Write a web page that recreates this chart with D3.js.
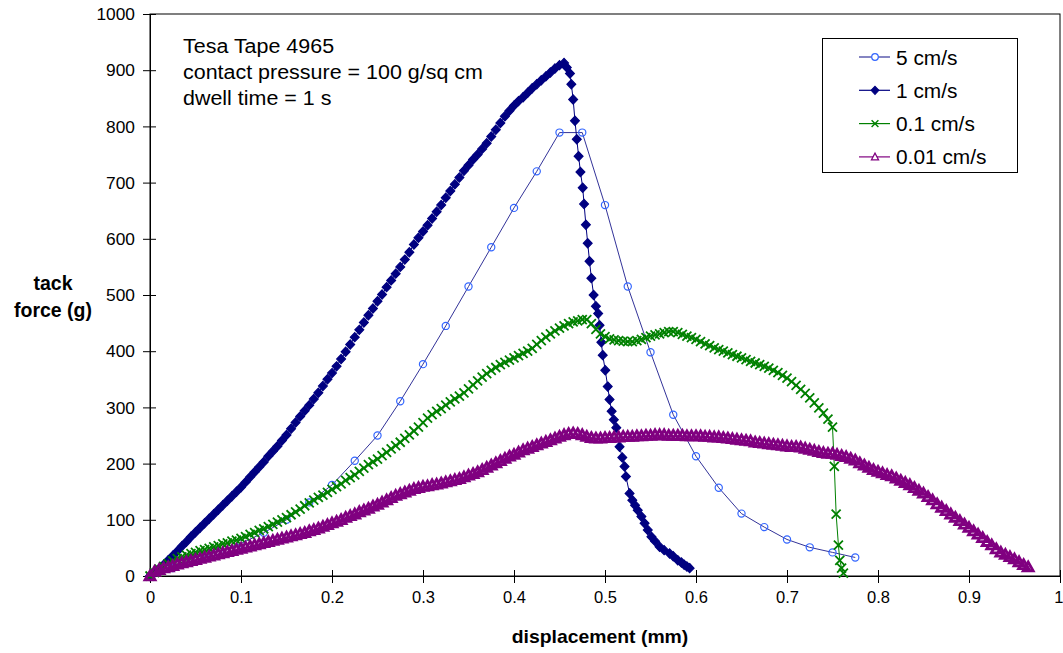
<!DOCTYPE html>
<html>
<head>
<meta charset="utf-8">
<script src="https://cdn.jsdelivr.net/npm/d3@7"></script>
<style>
  html, body { margin: 0; padding: 0; background: #fff; }
  svg { display: block; font-family: "Liberation Sans", Arial, sans-serif; }
</style>
</head>
<body>
<svg id="chart" width="1063" height="653"></svg>
<script>
// ---------------- DATA ----------------
const seriesNames = ["5 cm/s", "1 cm/s", "0.1 cm/s", "0.01 cm/s"];
const xTickValues = [0, 0.1, 0.2, 0.3, 0.4, 0.5, 0.6, 0.7, 0.8, 0.9, 1];
const xTickLabels = ["0", "0.1", "0.2", "0.3", "0.4", "0.5", "0.6", "0.7", "0.8", "0.9", "1"];
const yTickValues = [0, 100, 200, 300, 400, 500, 600, 700, 800, 900, 1000];
const yTickLabels = ["0", "100", "200", "300", "400", "500", "600", "700", "800", "900", "1000"];
const annotationLines = ["Tesa Tape 4965", "contact pressure = 100 g/sq cm", "dwell time = 1 s"];

// 5 cm/s  [displacement mm, force g]
const speed5 = [[0,0],[0.025,14],[0.05,28],[0.075,44],[0.1,58],[0.125,77],[0.15,100],[0.175,131],[0.2,162],
  [0.225,205],[0.25,250],[0.275,311],[0.3,377],[0.325,445],[0.35,515],[0.375,585],[0.4,655],[0.425,720],
  [0.45,789],[0.475,789],[0.5,660],[0.525,515],[0.55,398],[0.575,287],[0.6,213],[0.625,157],[0.65,111],
  [0.675,87],[0.7,65],[0.725,51],[0.75,42],[0.775,33]];

// 1 cm/s
const speed1 = [[0,0],[0.005,6],[0.01,13],[0.015,20],[0.02,28],[0.025,36],[0.03,44],[0.035,53],[0.04,61],[0.045,70],
  [0.05,78],[0.055,86],[0.06,94],[0.065,102],[0.07,110],[0.075,118],[0.08,126],[0.085,134],[0.09,142],[0.095,150],
  [0.1,158],[0.105,167],[0.11,176],[0.115,185],[0.12,194],[0.125,203],[0.13,213],[0.135,222],[0.14,231],[0.145,241],
  [0.15,251],[0.155,262],[0.16,273],[0.165,284],[0.17,294],[0.175,304],[0.18,315],[0.185,326],[0.19,338],[0.195,350],
  [0.2,361],[0.205,373],[0.21,386],[0.215,399],[0.22,412],[0.225,425],[0.23,438],[0.235,451],[0.24,464],[0.245,476],
  [0.25,489],[0.255,501],[0.26,514],[0.265,526],[0.27,538],[0.275,550],[0.28,563],[0.285,576],[0.29,590],[0.295,602],
  [0.3,613],[0.305,624],[0.31,636],[0.315,648],[0.32,660],[0.325,673],[0.33,685],[0.335,697],[0.34,709],[0.345,721],
  [0.35,731],[0.355,741],[0.36,750],[0.365,760],[0.37,770],[0.375,782],[0.38,794],[0.385,806],[0.39,818],[0.395,828],
  [0.4,837],[0.405,845],[0.41,852],[0.415,860],[0.42,868],[0.425,875],[0.43,882],[0.435,889],[0.44,896],[0.445,903],
  [0.45,909],[0.455,913],
  [0.458,905],[0.4615,894],[0.463,875],[0.465,848],[0.467,810],[0.469,777],[0.471,747],[0.473,719],[0.4755,691],
  [0.477,662],[0.479,625],[0.481,592],[0.483,560],[0.485,530],[0.4875,500],[0.49,480],[0.4925,467],[0.494,446],
  [0.496,416],[0.4975,393],[0.5003,366],[0.503,337],[0.505,314],[0.5073,293],[0.5097,278],[0.5124,264],[0.516,230],
  [0.519,211],[0.5215,195],[0.523,177],[0.527,147],[0.53,135],[0.533,126],[0.536,117],[0.54,106],[0.5435,94],
  [0.547,82],[0.551,70],[0.555,62],[0.56,52],[0.565,46],[0.571,40],[0.575,35],[0.58,28],[0.584,24],[0.587,20],
  [0.59,17],[0.593,14]];

// 0.1 cm/s
const speed01 = [[0,0],[0.005,6],[0.01,12],[0.015,17],[0.02,22],[0.025,27],[0.03,31],[0.035,34],[0.04,37],[0.045,40],
  [0.05,42],[0.055,45],[0.06,47],[0.065,49],[0.07,52],[0.075,54],[0.08,57],[0.085,59],[0.09,62],[0.095,64],
  [0.1,67],[0.105,70],[0.11,74],[0.115,77],[0.12,81],[0.125,84],[0.13,88],[0.135,92],[0.14,96],[0.145,100],
  [0.15,104],[0.155,109],[0.16,114],[0.165,119],[0.17,125],[0.175,130],[0.18,135],[0.185,140],[0.19,144],[0.195,149],
  [0.2,154],[0.205,159],[0.21,164],[0.215,170],[0.22,175],[0.225,180],[0.23,186],[0.235,192],[0.24,198],[0.245,203],
  [0.25,208],[0.255,214],[0.26,220],[0.265,226],[0.27,232],[0.275,238],[0.28,245],[0.285,251],[0.29,258],[0.295,265],
  [0.3,273],[0.305,281],[0.31,287],[0.315,293],[0.32,298],[0.325,304],[0.33,310],[0.335,315],[0.34,320],[0.345,326],
  [0.35,333],[0.355,340],[0.36,347],[0.365,354],[0.37,360],[0.375,366],[0.38,371],[0.385,376],[0.39,380],[0.395,384],
  [0.4,388],[0.405,392],[0.41,396],[0.415,400],[0.42,405],[0.425,412],[0.43,419],[0.435,425],[0.44,431],[0.445,436],
  [0.45,441],[0.455,445],[0.46,449],[0.465,452],[0.47,454],[0.475,456],[0.48,456],[0.485,449],[0.49,439],[0.495,431],
  [0.5,426],[0.505,422],[0.51,420],[0.515,419],[0.52,418],[0.525,417],[0.53,417],[0.535,419],[0.54,421],[0.545,424],
  [0.55,427],[0.555,429],[0.56,431],[0.565,433],[0.57,435],[0.575,435],[0.58,433],[0.585,430],[0.59,427],[0.595,424],
  [0.6,421],[0.605,417],[0.61,413],[0.615,410],[0.62,406],[0.625,403],[0.63,400],[0.635,397],[0.64,394],[0.645,391],
  [0.65,388],[0.655,385],[0.66,382],[0.665,379],[0.67,376],[0.675,373],[0.68,370],[0.685,366],[0.69,362],[0.695,357],
  [0.7,352],[0.705,346],[0.71,339],[0.715,332],[0.72,325],[0.725,317],[0.73,308],[0.735,299],[0.74,290],[0.745,279],
  [0.75,265],[0.752,195],[0.754,110],[0.7565,55],[0.758,28],[0.76,14],[0.762,5]];

// 0.01 cm/s
const speed001 = [[0,0],[0.005,8],[0.01,11],[0.015,14],[0.02,16],[0.025,18],[0.03,21],[0.035,23],[0.04,25],[0.045,27],
  [0.05,29],[0.055,31],[0.06,33],[0.065,35],[0.07,37],[0.075,39],[0.08,41],[0.085,43],[0.09,45],[0.095,47],
  [0.1,49],[0.105,51],[0.11,53],[0.115,55],[0.12,57],[0.125,59],[0.13,61],[0.135,63],[0.14,65],[0.145,67],
  [0.15,69],[0.155,71],[0.16,73],[0.165,75],[0.17,77],[0.175,80],[0.18,82],[0.185,85],[0.19,88],[0.195,91],
  [0.2,94],[0.205,97],[0.21,100],[0.215,104],[0.22,107],[0.225,110],[0.23,114],[0.235,117],[0.24,120],[0.245,124],
  [0.25,127],[0.255,131],[0.26,135],[0.265,139],[0.27,143],[0.275,146],[0.28,149],[0.285,152],[0.29,155],[0.295,157],
  [0.3,159],[0.305,160],[0.31,162],[0.315,163],[0.32,165],[0.325,167],[0.33,169],[0.335,171],[0.34,173],[0.345,176],
  [0.35,179],[0.355,182],[0.36,185],[0.365,189],[0.37,193],[0.375,197],[0.38,201],[0.385,205],[0.39,209],[0.395,213],
  [0.4,216],[0.405,220],[0.41,224],[0.415,227],[0.42,230],[0.425,233],[0.43,236],[0.435,239],[0.44,242],[0.445,245],
  [0.45,248],[0.455,251],[0.46,253],[0.465,254],[0.47,253],[0.475,251],[0.48,248],[0.485,246],[0.49,245],[0.495,245],
  [0.5,246],[0.505,246],[0.51,247],[0.515,247],[0.52,248],[0.525,248],[0.53,248],[0.535,249],[0.54,249],[0.545,250],
  [0.55,250],[0.555,251],[0.56,251],[0.565,251],[0.57,250],[0.575,250],[0.58,250],[0.585,250],[0.59,249],[0.595,249],
  [0.6,249],[0.605,249],[0.61,248],[0.615,248],[0.62,247],[0.625,247],[0.63,246],[0.635,245],[0.64,244],[0.645,243],
  [0.65,242],[0.655,241],[0.66,240],[0.665,238],[0.67,237],[0.675,236],[0.68,235],[0.685,234],[0.69,233],[0.695,232],
  [0.7,231],[0.705,230],[0.71,230],[0.715,229],[0.72,227],[0.725,225],[0.73,223],[0.735,221],[0.74,219],[0.745,218],
  [0.75,218],[0.755,216],[0.76,214],[0.765,212],[0.77,209],[0.775,206],[0.78,201],[0.785,197],[0.79,193],[0.795,189],
  [0.8,186],[0.805,183],[0.81,180],[0.815,178],[0.82,174],[0.825,170],[0.83,166],[0.835,162],[0.84,157],[0.845,152],
  [0.85,147],[0.855,141],[0.86,135],[0.865,128],[0.87,122],[0.875,116],[0.88,110],[0.885,104],[0.89,98],[0.895,92],
  [0.9,86],[0.905,80],[0.91,74],[0.915,68],[0.92,61],[0.925,55],[0.93,48],[0.935,42],[0.94,38],[0.945,34],
  [0.95,30],[0.955,25],[0.96,20],[0.965,16]];

// ---------------- CHART ----------------
const svg = d3.select("#chart");
svg.append("rect").attr("width", 1063).attr("height", 653).attr("fill", "#fff");

const x = d3.scaleLinear().domain([0, 1]).range([150, 1060]);
const y = d3.scaleLinear().domain([0, 1000]).range([576, 14]);

// stretch text horizontally (the reference text is slightly wide)
function stretch(sel, f) {
  sel.each(function () {
    const w = this.getComputedTextLength();
    d3.select(this).attr("textLength", w * f).attr("lengthAdjust", "spacingAndGlyphs");
  });
}

// plot frame (top/right)
svg.append("rect")
  .attr("x", x(0)).attr("y", y(1000))
  .attr("width", x(1) - x(0)).attr("height", y(0) - y(1000))
  .attr("fill", "none").attr("stroke", "#000").attr("stroke-width", 1);

// Y axis
const yAxis = svg.append("g")
  .attr("transform", `translate(${x(0)},0)`)
  .call(d3.axisLeft(y).tickValues(yTickValues)
    .tickFormat((d, i) => yTickLabels[i]).tickSizeOuter(0).tickSizeInner(7));
yAxis.select(".domain").attr("stroke", "#000");
yAxis.selectAll(".tick line").attr("x1", 6).attr("x2", -7).attr("stroke", "#000");
yAxis.selectAll(".tick text").attr("x", -15).attr("dy", "0.35em")
  .attr("font-size", 16.5).attr("fill", "#000").style("font-family", "'Liberation Sans', Arial, sans-serif");
stretch(yAxis.selectAll(".tick text"), 1.05);

// X axis
const xAxis = svg.append("g")
  .attr("transform", `translate(0,${y(0)})`)
  .call(d3.axisBottom(x).tickValues(xTickValues)
    .tickFormat((d, i) => xTickLabels[i]).tickSizeOuter(0).tickSizeInner(7));
xAxis.select(".domain").attr("stroke", "#000");
xAxis.selectAll(".tick line").attr("y1", -6).attr("y2", 7).attr("stroke", "#000");
xAxis.selectAll(".tick text").attr("y", 22).attr("dy", "0.32em")
  .attr("font-size", 16.5).attr("fill", "#000").style("font-family", "'Liberation Sans', Arial, sans-serif");
// last label sits at the right edge: keep it inside the page
xAxis.selectAll(".tick text").filter(d => d === 1).attr("text-anchor", "end").attr("x", 3);

// Axis titles
const xt = svg.append("text").attr("x", 600).attr("y", 643).attr("text-anchor", "middle")
  .attr("font-size", 19).attr("font-weight", "bold").text("displacement (mm)");
stretch(xt, 1.02);
svg.append("text").attr("text-anchor", "middle").attr("font-size", 19.5).attr("font-weight", "bold")
  .attr("x", 53).attr("y", 290).text("tack");
svg.append("text").attr("text-anchor", "middle").attr("font-size", 19.5).attr("font-weight", "bold")
  .attr("x", 53).attr("y", 317).text("force (g)");

// Annotation
const ann = svg.append("g").selectAll("text").data(annotationLines).join("text")
  .attr("x", 183).attr("y", (d, i) => 53 + i * 26)
  .attr("font-size", 19.5).attr("fill", "#000").text(d => d);
stretch(ann, 1.1);

// marker shapes
const shapes = {
  circle: "M3.6,0A3.6,3.6 0 1,1 -3.6,0A3.6,3.6 0 1,1 3.6,0Z",
  diamond: "M0,-4.6L4.4,0L0,4.6L-4.4,0Z",
  cross: "M-4.5,-4.5L4.5,4.5M-4.5,4.5L4.5,-4.5",
  triangle: "M0,-5L5,3.8L-5,3.8Z"
};
const legendShapes = {
  circle: "M3.3,0A3.3,3.3 0 1,1 -3.3,0A3.3,3.3 0 1,1 3.3,0Z",
  diamond: "M0,-4L3.8,0L0,4L-3.8,0Z",
  cross: "M-3.4,-3.4L3.4,3.4M-3.4,3.4L3.4,-3.4",
  triangle: "M0,-3.8L3.6,3L-3.6,3Z"
};

const styles = [
  { data: speed5,   line: "#333399", marker: "#3366ff", shape: "circle",   fill: "none",    sw: 1.2 },
  { data: speed1,   line: "#000080", marker: "#000080", shape: "diamond",  fill: "#000080", sw: 1.2 },
  { data: speed01,  line: "#008000", marker: "#008000", shape: "cross",    fill: "none",    sw: 1.8 },
  { data: speed001, line: "#800080", marker: "#800080", shape: "triangle", fill: "none",    sw: 2.8 }
];

const lineGen = d3.line().x(d => x(d[0])).y(d => y(d[1]));

styles.forEach(s => {
  const g = svg.append("g");
  g.append("path").datum(s.data).attr("d", lineGen)
    .attr("fill", "none").attr("stroke", s.line).attr("stroke-width", 1);
  g.selectAll("path.m").data(s.data).join("path").attr("class", "m")
    .attr("transform", d => `translate(${x(d[0])},${y(d[1])})`)
    .attr("d", shapes[s.shape])
    .attr("fill", s.fill).attr("stroke", s.marker).attr("stroke-width", s.sw);
});

// Legend
const lg = svg.append("g");
lg.append("rect").attr("x", 822.5).attr("y", 38.5).attr("width", 195).attr("height", 134)
  .attr("fill", "#fff").attr("stroke", "#000").attr("stroke-width", 1);
styles.forEach((s, i) => {
  const cy = 57 + i * 33.3;
  lg.append("line").attr("x1", 859).attr("x2", 890).attr("y1", cy).attr("y2", cy)
    .attr("stroke", s.line).attr("stroke-width", 1.2);
  lg.append("path").attr("transform", `translate(875,${cy})`).attr("d", legendShapes[s.shape])
    .attr("fill", s.shape === "diamond" ? s.fill : (s.shape === "cross" ? "none" : "#fff"))
    .attr("stroke", s.marker).attr("stroke-width", s.shape === "cross" ? 1.4 : 1.2);
  const t = lg.append("text").attr("x", 896).attr("y", cy + 7.5).attr("font-size", 19.5)
    .attr("fill", "#000").text(seriesNames[i]);
  stretch(t, 1.07);
});
</script>
</body>
</html>
